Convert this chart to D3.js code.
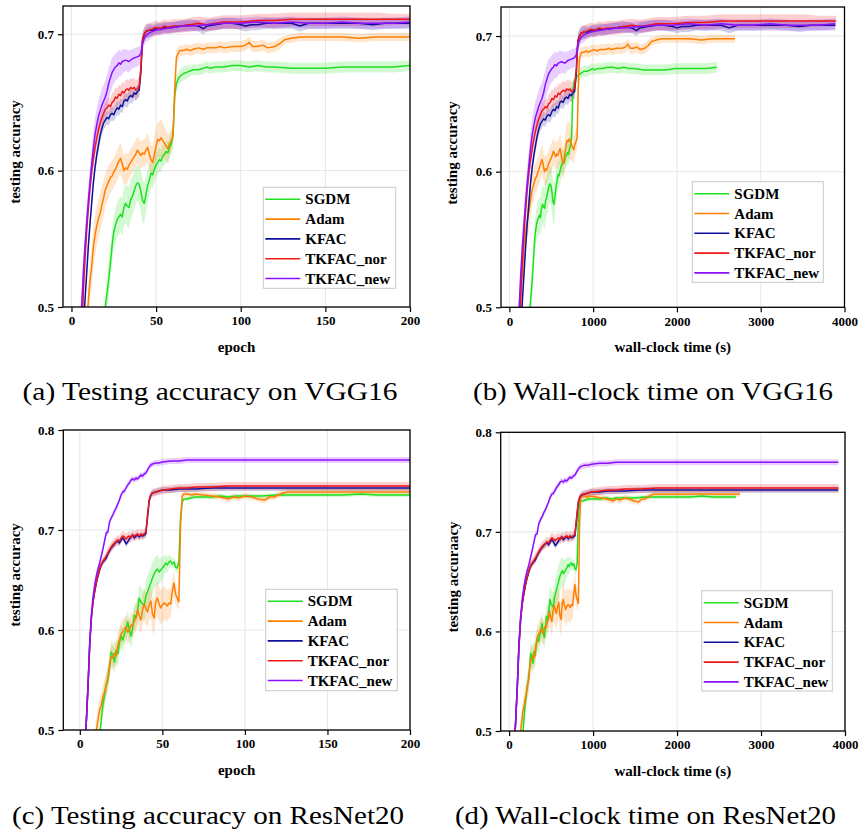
<!DOCTYPE html>
<html>
<head>
<meta charset="utf-8">
<script src="https://cdn.jsdelivr.net/npm/d3@7"></script>
<style>
	body { margin: 0; background: #fff; }
	svg { display: block; }
</style>
</head>
<body>
<svg id="fig" width="858" height="834"></svg>
<script>
// methods, in legend order
const methods = ['SGDM', 'Adam', 'KFAC', 'TKFAC_nor', 'TKFAC_new']
const colors = ['#1fe01f', '#ff7f00', '#10109c', '#f21616', '#8a10ff']

const vggSecPerEpoch = [12.38, 13.47, 19.45, 19.5, 19.45]
const resSecPerEpoch = [13.5, 13.75, 19.6, 19.62, 19.6]

// ticks
const epochTicks = [0, 50, 100, 150, 200]
const timeTicks = [0, 1000, 2000, 3000, 4000]
const vggAccTicks = [0.5, 0.6, 0.7]
const resAccTicks = [0.5, 0.6, 0.7, 0.8]

// VGG16: [epoch, mean accuracy, band half width]
const vggSGDM = [[19.5,.495,.01],[20,.5,.01],[21,.51,.012],[22,.52,.012],[23,.532,.012],[24,.545,.012],[25,.555,.012],[26,.56,.012],[27,.564,.013],[28,.566,.013],[29,.568,.013],[30,.566,.014],[31,.573,.014],[32,.576,.014],[33,.574,.015],[34,.573,.015],[35,.579,.015],[36,.581,.014],[37,.585,.014],[38,.589,.013],[39,.591,.013],[40,.59,.014],[41,.585,.015],[42,.578,.016],[43,.576,.015],[44,.582,.013],[45,.589,.012],[46,.593,.011],[47,.598,.01],[48,.597,.01],[49,.601,.01],[50,.604,.009],[51,.606,.009],[52,.608,.009],[53,.607,.008],[54,.611,.008],[55,.612,.008],[56,.614,.008],[57,.613,.008],[58,.617,.008],[59,.62,.008],[60,.626,.008],[61,.655,.008],[62,.664,.006],[63,.667,.005],[64,.669,.005],[66,.671,.005],[68,.672,.005],[70,.673,.004],[72,.674,.004],[75,.674,.004],[78,.675,.004],[80,.676,.004],[82,.675,.004],[85,.676,.004],[90,.676,.004],[95,.677,.004],[100,.677,.004],[105,.676,.004],[110,.677,.004],[115,.676,.004],[120,.676,.004],[130,.675,.004],[140,.675,.004],[150,.675,.004],[160,.676,.004],[170,.676,.004],[180,.676,.004],[190,.676,.004],[200,.677,.004]]
const vggAdam = [[9.5,.495,.012],[10,.505,.012],[11,.52,.014],[12,.53,.015],[13,.545,.015],[14,.553,.015],[15,.56,.015],[16,.565,.014],[17,.569,.014],[18,.575,.013],[19,.58,.013],[20,.586,.012],[21,.589,.012],[22,.592,.012],[23,.595,.011],[24,.596,.011],[25,.599,.011],[26,.601,.011],[27,.604,.011],[28,.607,.011],[29,.609,.011],[30,.605,.011],[31,.6,.011],[32,.602,.011],[33,.601,.011],[34,.604,.01],[35,.606,.01],[36,.608,.01],[37,.61,.01],[38,.612,.01],[39,.615,.01],[40,.613,.01],[41,.611,.01],[42,.613,.01],[43,.612,.01],[44,.615,.01],[45,.617,.011],[46,.612,.011],[47,.608,.011],[48,.606,.012],[49,.612,.012],[50,.618,.013],[51,.623,.013],[52,.622,.014],[53,.624,.014],[54,.622,.013],[55,.62,.012],[56,.618,.011],[57,.616,.01],[58,.62,.009],[59,.622,.008],[60,.625,.008],[61,.66,.006],[62,.683,.005],[63,.686,.005],[64,.688,.004],[66,.688,.004],[68,.689,.004],[70,.688,.004],[72,.689,.004],[75,.69,.004],[78,.689,.004],[80,.69,.004],[85,.69,.004],[88,.691,.004],[90,.69,.004],[95,.691,.004],[100,.691,.004],[103,.692,.004],[105,.694,.004],[107,.691,.004],[110,.691,.004],[113,.692,.004],[116,.69,.004],[120,.691,.004],[123,.693,.004],[126,.696,.003],[130,.697,.003],[135,.698,.003],[140,.698,.003],[150,.698,.003],[160,.698,.003],[170,.697,.003],[180,.698,.003],[190,.698,.003],[200,.698,.003]]
const vggKFAC = [[7.5,.495,.005],[8,.505,.005],[9,.525,.005],[10,.545,.005],[11,.562,.005],[12,.577,.005],[13,.592,.005],[14,.603,.005],[15,.612,.005],[16,.619,.005],[17,.626,.005],[18,.631,.005],[19,.635,.005],[20,.637,.005],[21,.639,.005],[22,.638,.005],[23,.641,.005],[24,.642,.005],[25,.641,.005],[26,.644,.005],[27,.646,.005],[28,.645,.005],[29,.648,.005],[30,.647,.005],[31,.651,.005],[32,.652,.005],[33,.651,.005],[34,.654,.005],[35,.655,.005],[36,.654,.005],[37,.657,.005],[38,.656,.005],[39,.658,.005],[40,.659,.005],[41,.672,.005],[42,.696,.005],[43,.7,.005],[44,.702,.005],[46,.703,.005],[48,.703,.004],[50,.704,.004],[55,.705,.004],[60,.705,.004],[65,.706,.004],[70,.707,.004],[75,.706,.004],[78,.704,.004],[80,.706,.004],[85,.707,.004],[90,.708,.004],[95,.708,.004],[100,.707,.004],[103,.706,.004],[106,.707,.004],[110,.707,.004],[115,.708,.004],[120,.708,.004],[130,.708,.004],[135,.706,.004],[140,.708,.004],[150,.708,.004],[160,.708,.004],[170,.708,.004],[178,.707,.004],[185,.708,.004],[190,.708,.004],[200,.708,.004]]
const vggTKFACnor = [[6.5,.495,.006],[7,.51,.006],[8,.535,.006],[9,.556,.006],[10,.573,.006],[11,.588,.006],[12,.6,.006],[13,.609,.006],[14,.617,.006],[15,.624,.006],[16,.63,.006],[17,.635,.006],[18,.639,.006],[19,.642,.006],[20,.645,.006],[21,.646,.006],[22,.648,.006],[23,.647,.006],[24,.65,.007],[25,.651,.007],[26,.654,.007],[27,.653,.007],[28,.656,.007],[29,.655,.007],[30,.658,.007],[31,.657,.007],[32,.659,.007],[33,.66,.007],[34,.659,.007],[35,.661,.007],[36,.66,.007],[37,.661,.007],[38,.659,.007],[39,.66,.007],[40,.662,.007],[41,.675,.006],[42,.697,.005],[43,.7,.005],[44,.702,.005],[46,.703,.005],[48,.704,.005],[50,.705,.005],[52,.704,.005],[55,.706,.005],[57,.705,.005],[60,.706,.005],[65,.706,.005],[70,.707,.005],[75,.708,.005],[80,.707,.005],[85,.708,.005],[90,.709,.005],[100,.709,.005],[110,.71,.005],[120,.71,.005],[130,.711,.005],[140,.711,.005],[150,.711,.005],[160,.711,.005],[170,.711,.005],[180,.711,.005],[190,.711,.004],[200,.711,.004]]
const vggTKFACnew = [[5.5,.495,.008],[6,.5,.008],[7,.525,.01],[8,.545,.011],[9,.562,.012],[10,.578,.012],[11,.592,.012],[12,.605,.012],[13,.617,.012],[14,.627,.012],[15,.634,.012],[16,.64,.012],[17,.644,.012],[18,.648,.012],[19,.651,.012],[20,.654,.012],[21,.658,.012],[22,.664,.011],[23,.668,.011],[24,.672,.011],[25,.674,.01],[26,.676,.01],[27,.677,.01],[28,.679,.01],[29,.678,.009],[30,.68,.009],[32,.681,.008],[34,.68,.008],[36,.682,.007],[38,.683,.007],[40,.684,.007],[41,.686,.006],[42,.693,.005],[43,.697,.005],[44,.699,.005],[46,.701,.005],[48,.702,.004],[50,.703,.004],[55,.704,.004],[60,.705,.004],[65,.706,.004],[70,.706,.004],[80,.707,.004],[90,.708,.004],[100,.708,.004],[110,.709,.004],[120,.708,.004],[130,.709,.004],[140,.708,.004],[150,.708,.004],[160,.709,.004],[170,.708,.004],[180,.708,.004],[190,.708,.004],[200,.709,.004]]

// ResNet20: [epoch, mean accuracy, band half width]
const resSGDM = [[12,.495,.01],[13,.51,.01],[14,.525,.011],[15,.535,.012],[16,.545,.012],[17,.55,.012],[18,.562,.012],[19,.578,.012],[20,.575,.012],[21,.568,.012],[22,.58,.012],[23,.576,.012],[24,.587,.012],[25,.594,.012],[26,.59,.012],[27,.596,.012],[28,.6,.012],[29,.608,.012],[30,.6,.012],[31,.594,.012],[32,.602,.012],[33,.615,.013],[34,.612,.013],[35,.62,.013],[36,.632,.014],[37,.628,.014],[38,.626,.015],[39,.624,.015],[40,.634,.015],[41,.638,.016],[42,.643,.016],[43,.647,.016],[44,.652,.016],[45,.656,.015],[46,.659,.015],[47,.661,.014],[48,.658,.013],[49,.66,.012],[50,.662,.011],[51,.664,.01],[52,.667,.009],[53,.665,.008],[54,.668,.007],[55,.669,.006],[56,.666,.005],[57,.668,.005],[58,.663,.005],[59,.662,.005],[60,.668,.005],[61,.712,.004],[62,.728,.003],[63,.731,.002],[65,.731,.002],[67,.732,.002],[70,.733,.002],[75,.733,.002],[80,.733,.002],[85,.734,.002],[90,.733,.002],[95,.734,.002],[100,.734,.002],[110,.734,.002],[120,.735,.002],[130,.735,.002],[140,.735,.002],[150,.735,.002],[160,.735,.002],[170,.736,.002],[180,.735,.002],[190,.735,.002],[200,.735,.002]]
const resAdam = [[9.5,.495,.012],[10,.5,.012],[11,.51,.012],[12,.52,.012],[13,.525,.012],[14,.533,.012],[15,.538,.012],[16,.545,.012],[17,.552,.012],[18,.565,.012],[19,.573,.012],[20,.572,.012],[21,.577,.012],[22,.574,.012],[23,.584,.012],[24,.59,.012],[25,.596,.012],[26,.598,.012],[27,.601,.012],[28,.603,.012],[29,.598,.012],[30,.6,.012],[31,.605,.012],[32,.604,.012],[33,.609,.012],[34,.612,.013],[35,.62,.013],[36,.614,.014],[37,.61,.014],[38,.62,.015],[39,.626,.015],[40,.622,.016],[41,.618,.016],[42,.625,.016],[43,.629,.016],[44,.616,.017],[45,.612,.017],[46,.628,.017],[47,.632,.017],[48,.626,.017],[49,.622,.017],[50,.625,.017],[51,.627,.017],[52,.626,.016],[53,.624,.016],[54,.627,.015],[55,.626,.014],[56,.638,.013],[57,.647,.012],[58,.636,.011],[59,.632,.01],[60,.628,.008],[61,.705,.005],[62,.734,.003],[63,.736,.003],[65,.736,.003],[68,.735,.003],[70,.736,.003],[75,.735,.003],[80,.734,.003],[85,.733,.003],[90,.731,.003],[93,.733,.003],[96,.732,.003],[100,.734,.003],[104,.733,.003],[108,.731,.003],[112,.73,.003],[115,.733,.003],[118,.733,.003],[120,.735,.003],[123,.737,.003],[126,.738,.003],[130,.738,.003],[140,.738,.003],[150,.738,.003],[160,.738,.003],[170,.738,.003],[180,.738,.003],[190,.738,.003],[200,.738,.003]]
const resKFAC = [[3.5,.495,.003],[4,.51,.003],[5,.545,.003],[6,.585,.003],[7,.612,.003],[8,.628,.003],[9,.638,.003],[10,.647,.003],[11,.654,.003],[12,.66,.003],[13,.665,.003],[14,.668,.003],[15,.67,.003],[16,.672,.003],[17,.676,.003],[18,.679,.003],[19,.682,.003],[20,.684,.003],[21,.686,.003],[22,.688,.003],[23,.689,.003],[24,.687,.003],[25,.69,.003],[26,.692,.003],[27,.69,.003],[28,.686,.003],[29,.688,.003],[30,.691,.003],[31,.693,.003],[32,.695,.003],[33,.692,.003],[34,.694,.003],[35,.695,.003],[36,.693,.003],[37,.695,.003],[38,.694,.003],[39,.695,.003],[40,.696,.003],[41,.712,.003],[42,.729,.003],[43,.735,.003],[44,.737,.003],[46,.738,.003],[48,.739,.003],[50,.74,.003],[55,.74,.003],[60,.741,.003],[70,.741,.003],[80,.742,.003],[100,.742,.003],[120,.742,.003],[140,.742,.003],[160,.742,.003],[180,.742,.003],[200,.742,.003]]
const resTKFACnor = [[3.5,.495,.004],[4,.51,.004],[5,.545,.004],[6,.585,.004],[7,.612,.004],[8,.628,.004],[9,.639,.004],[10,.648,.004],[11,.655,.004],[12,.661,.004],[13,.666,.004],[14,.669,.004],[15,.671,.004],[16,.674,.005],[17,.677,.005],[18,.68,.005],[19,.683,.005],[20,.685,.005],[21,.687,.005],[22,.688,.005],[23,.69,.005],[24,.689,.005],[25,.692,.005],[26,.694,.005],[27,.693,.005],[28,.691,.005],[29,.693,.005],[30,.694,.005],[31,.692,.005],[32,.695,.005],[33,.694,.005],[34,.695,.005],[35,.696,.005],[36,.694,.005],[37,.696,.005],[38,.695,.005],[39,.696,.005],[40,.698,.005],[41,.715,.004],[42,.73,.004],[43,.735,.004],[44,.737,.004],[46,.738,.004],[48,.739,.004],[50,.74,.004],[55,.741,.004],[60,.742,.004],[65,.742,.004],[70,.743,.004],[80,.743,.004],[90,.744,.004],[100,.744,.004],[120,.744,.004],[140,.744,.004],[160,.744,.004],[180,.744,.004],[200,.744,.004]]
const resTKFACnew = [[3.5,.495,.003],[4,.51,.003],[5,.545,.003],[6,.588,.003],[7,.615,.003],[8,.633,.003],[9,.645,.003],[10,.654,.003],[11,.661,.003],[12,.667,.003],[13,.674,.003],[14,.681,.003],[15,.689,.003],[16,.697,.003],[17,.698,.003],[18,.708,.003],[19,.712,.003],[20,.715,.003],[21,.719,.003],[22,.722,.003],[23,.726,.003],[24,.73,.003],[25,.735,.003],[26,.738,.003],[27,.739,.003],[28,.742,.003],[29,.745,.003],[30,.747,.003],[31,.75,.003],[32,.751,.003],[33,.75,.003],[34,.752,.003],[35,.751,.003],[36,.753,.003],[37,.755,.003],[38,.754,.003],[39,.756,.003],[40,.757,.003],[41,.76,.003],[42,.763,.003],[43,.765,.003],[44,.766,.003],[46,.767,.003],[48,.767,.003],[50,.768,.003],[55,.769,.003],[60,.769,.003],[65,.77,.003],[70,.77,.003],[80,.77,.003],[90,.77,.003],[100,.77,.003],[120,.77,.003],[140,.77,.003],[160,.77,.003],[180,.77,.003],[200,.77,.003]]

const vggRuns = [vggSGDM, vggAdam, vggKFAC, vggTKFACnor, vggTKFACnew]
const resRuns = [resSGDM, resAdam, resKFAC, resTKFACnor, resTKFACnew]

const panels = [
	{id: 'a', runs: vggRuns, scale: null, left: 63, right: 410, top: 6, bottom: 307,
		xDomain: [-5, 200], yDomain: [0.5, 0.7207], xTicks: epochTicks, yTicks: vggAccTicks,
		xLabel: 'epoch', yLabel: 'testing accuracy', yLabelPos: [20, 152],
		legend: [263.3, 187.3, 132.4, 101],
		caption: '(a) Testing accuracy on VGG16', capPos: [22.5, 400, 375]},
	{id: 'b', runs: vggRuns, scale: vggSecPerEpoch, left: 501, right: 844.5, top: 7, bottom: 307.3,
		xDomain: [-100, 4000], yDomain: [0.5, 0.7214], xTicks: timeTicks, yTicks: vggAccTicks,
		xLabel: 'wall-clock time (s)', yLabel: 'testing accuracy', yLabelPos: [457, 153],
		legend: [692.3, 181.7, 131, 100.6],
		caption: '(b) Wall-clock time on VGG16', capPos: [473, 400, 360]},
	{id: 'c', runs: resRuns, scale: null, left: 63.3, right: 410, top: 430, bottom: 730,
		xDomain: [-10, 200], yDomain: [0.5, 0.8], xTicks: epochTicks, yTicks: resAccTicks,
		xLabel: 'epoch', yLabel: 'testing accuracy', yLabelPos: [20, 575],
		legend: [265.7, 589.3, 131.6, 101.4],
		caption: '(c) Testing accuracy on ResNet20', capPos: [12, 824, 392]},
	{id: 'd', runs: resRuns, scale: resSecPerEpoch, left: 500.7, right: 845, top: 432.3, bottom: 731,
		xDomain: [-100, 4000], yDomain: [0.5, 0.8], xTicks: timeTicks, yTicks: resAccTicks,
		xLabel: 'wall-clock time (s)', yLabel: 'testing accuraacy', yLabelPos: [457.5, 577],
		legend: [701.7, 590.7, 130.6, 100.3],
		caption: '(d) Wall-clock time on ResNet20', capPos: [455, 824, 381]}
]

const font = "'Liberation Serif', 'Times New Roman', serif"
const svg = d3.select('#fig')

function drawPanel(p) {
	let x = d3.scaleLinear().domain(p.xDomain).range([p.left, p.right])
	let y = d3.scaleLinear().domain(p.yDomain).range([p.bottom, p.top])
	let g = svg.append('g')

	// grid
	g.selectAll('.gx').data(p.xTicks).join('line')
		.attr('x1', d => x(d)).attr('x2', d => x(d))
		.attr('y1', p.top).attr('y2', p.bottom)
		.attr('stroke', '#e6e6e6').attr('stroke-width', 1)
	g.selectAll('.gy').data(p.yTicks).join('line')
		.attr('x1', p.left).attr('x2', p.right)
		.attr('y1', d => y(d)).attr('y2', d => y(d))
		.attr('stroke', '#e6e6e6').attr('stroke-width', 1)

	svg.append('clipPath').attr('id', 'clip-' + p.id)
		.append('rect')
		.attr('x', p.left).attr('y', p.top)
		.attr('width', p.right - p.left).attr('height', p.bottom - p.top)
	let plot = g.append('g').attr('clip-path', `url(#clip-${p.id})`)

	let series = p.runs.map((run, i) => {
		let k = p.scale ? p.scale[i] : 1
		return run.map(d => [d[0] * k, d[1], d[2]])
	})

	let area = d3.area()
		.x(d => x(d[0]))
		.y0(d => y(d[1] - d[2]))
		.y1(d => y(d[1] + d[2]))
	let line = d3.line()
		.x(d => x(d[0]))
		.y(d => y(d[1]))

	series.forEach((pts, i) => {
		plot.append('path').datum(pts)
			.attr('d', area)
			.attr('fill', colors[i])
			.attr('fill-opacity', 0.2)
	})
	series.forEach((pts, i) => {
		plot.append('path').datum(pts)
			.attr('d', line)
			.attr('fill', 'none')
			.attr('stroke', colors[i])
			.attr('stroke-width', 1.5)
			.attr('stroke-linejoin', 'round')
	})

	// axes
	let yAxis = g.append('g')
		.attr('transform', `translate(${p.left},0)`)
		.call(d3.axisLeft(y).tickValues(p.yTicks).tickSize(5).tickSizeOuter(0)
			.tickPadding(4).tickFormat(d3.format('.1f')))
	let xAxis = g.append('g')
		.attr('transform', `translate(0,${p.bottom})`)
		.call(d3.axisBottom(x).tickValues(p.xTicks).tickSize(5).tickSizeOuter(0)
			.tickPadding(4).tickFormat(d3.format('d')))
	;[xAxis, yAxis].forEach(a => {
		a.select('.domain').remove()
		a.selectAll('line').attr('stroke', '#000').attr('stroke-width', 1.2)
		a.selectAll('text')
			.style('font-family', font)
			.style('font-weight', 'bold')
			.style('font-size', '13px')
			.attr('fill', '#000')
	})

	g.append('rect')
		.attr('x', p.left).attr('y', p.top)
		.attr('width', p.right - p.left).attr('height', p.bottom - p.top)
		.attr('fill', 'none').attr('stroke', '#000').attr('stroke-width', 1.3)

	// axis labels
	g.append('text')
		.attr('x', (p.left + p.right) / 2).attr('y', p.bottom + 45)
		.attr('text-anchor', 'middle')
		.style('font-family', font).style('font-weight', 'bold').style('font-size', '15px')
		.text(p.xLabel)
	g.append('text')
		.attr('transform', `translate(${p.yLabelPos[0]},${p.yLabelPos[1]}) rotate(-90)`)
		.attr('text-anchor', 'middle')
		.style('font-family', font).style('font-weight', 'bold').style('font-size', '15px')
		.text(p.yLabel)

	// legend
	let [lx, ly, lw, lh] = p.legend
	let lg = g.append('g')
	lg.append('rect')
		.attr('x', lx).attr('y', ly).attr('width', lw).attr('height', lh)
		.attr('fill', '#fff').attr('fill-opacity', 0.9)
		.attr('stroke', '#c8c8c8').attr('stroke-width', 1)
	methods.forEach((m, i) => {
		let ry = ly + 12 + i * 19.8
		lg.append('line')
			.attr('x1', lx + 2).attr('x2', lx + 37)
			.attr('y1', ry).attr('y2', ry)
			.attr('stroke', colors[i]).attr('stroke-width', 1.6)
		lg.append('text')
			.attr('x', lx + 42).attr('y', ry + 5)
			.style('font-family', font).style('font-weight', 'bold').style('font-size', '15px')
			.text(m)
	})

	// caption
	svg.append('text')
		.attr('x', p.capPos[0]).attr('y', p.capPos[1])
		.attr('textLength', p.capPos[2]).attr('lengthAdjust', 'spacingAndGlyphs')
		.style('font-family', font).style('font-size', '25px')
		.text(p.caption)
}

panels.forEach(drawPanel)
</script>
</body>
</html>
